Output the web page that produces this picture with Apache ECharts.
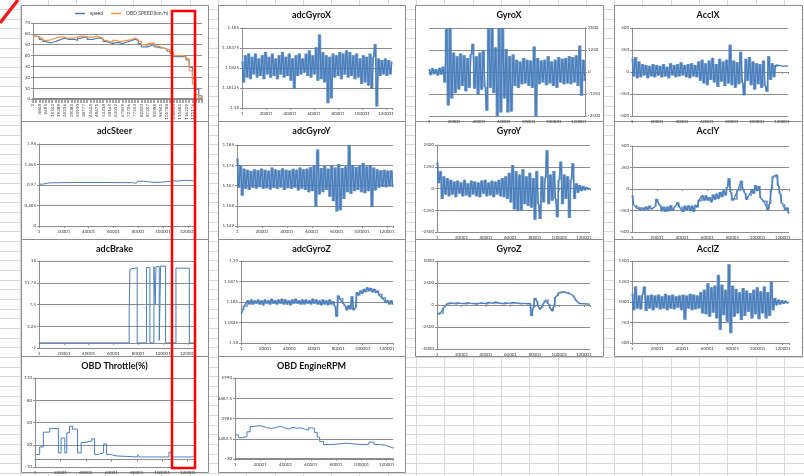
<!DOCTYPE html>
<html>
<head>
<meta charset="utf-8">
<title>sensor log</title>
<script src="https://cdn.jsdelivr.net/npm/echarts@6.0.0/dist/echarts.min.js"></script>
<style>
  html, body { margin: 0; padding: 0; background: #fff; }
  #main { width: 804px; height: 476px; }
</style>
</head>
<body>
<div id="main"></div>
<script>
// ---------- data ----------
var SAMPLE_MAX = 125000;

// speed chart: category ticks + two step traces
var speedTicks = ['1', '4848', '9695', '14542', '19389', '24236', '29083', '33930', '38777', '43624',
    '48471', '53318', '58165', '63012', '67859', '72706', '77553', '82400', '87247', '92094',
    '96941', '101788', '106635', '111482', '116329', '121176'];
var speedGps = [58, 57, 55, 53, 52, 52, 53, 54, 55, 56, 55, 55, 55, 54, 56, 57, 57, 55, 55, 56,
    56, 55, 53, 52, 51, 52, 52, 51, 52, 53, 54, 55, 54, 51, 48, 48, 49, 50, 48, 47,
    47, 46, 44, 42, 39, 39, 39, 39, 36, 29, 19, 9, 3, 0];
var speedObd = [58, 57, 56, 54, 54, 55, 56, 57, 57, 57, 56, 56, 56, 57, 58, 58, 57, 57, 57, 58,
    57, 56, 54, 53, 52, 54, 53, 53, 54, 54, 55, 56, 55, 53, 50, 49, 51, 52, 49, 48,
    47, 46, 45, 43, 40, 40, 40, 39, 37, 26, 14, 4, 1, 0];
var speedYTicks = [0, 10, 20, 30, 40, 50, 60, 70];

// step-like signals: sample index where the value changes, and the value held
var steerX = [0, 3000, 8000, 30000, 50000, 70000, 76000, 78400, 79500, 84000, 90000, 94500, 100000, 103900, 108000, 112000, 116000, 120000, 125000];
var steerY = [0.99, 1.02, 1.03, 1.03, 1.025, 1.025, 1.01, 0.97, 1.06, 1.04, 1.03, 1.04, 1.05, 1.07, 1.06, 1.08, 1.08, 1.07, 1.07];
var steerYTicks = [0, 0.485, 0.97, 1.455, 1.94];

var brakeX = [0, 72740, 73300, 73820, 79200, 86750, 89440, 92670, 93750, 94290, 96980, 98060, 102100, 110450, 121230, 125000];
var brakeY = [0, 6, 14.4, 14.7, 0, 14.7, 0, 14.9, 7.5, 14.9, 0.5, 15, 0, 14.6, 0, 0];
var brakeYTicks = [-1, 3.25, 7.5, 11.75, 16];

var throttleX = [0, 3680, 6580, 11580, 18420, 20530, 23420, 25000, 27110, 29470, 33420, 36320, 39210,
    44740, 46840, 49740, 53950, 56320, 59210, 63680, 80790, 82110, 105260, 107110, 123680, 125000];
var throttleY = [7, 17, 37, 42, 9, 29, 9, 36, 45, 41, 9, 23, 25, 28, 7, 9, 21, 7, 5, 3.5, 6.5, 3.5, 10, 3.5, 5, 5];
var throttleYTicks = [-10, 20, 50, 80, 110];

var rpmX = [0, 2600, 5500, 9500, 12000, 14500, 18500, 22000, 25000, 29000, 33000, 36000, 38500, 42000, 46000,
    49000, 52000, 55000, 58000, 60500, 63000, 65000, 67000, 70000, 76000, 82000, 88000, 94000, 99000,
    103000, 106000, 110000, 115000, 119000, 122000, 125000];
var rpmY = [1770, 1560, 1650, 2000, 2390, 2450, 2420, 2300, 2250, 2330, 2400, 2340, 2200, 2330, 2260,
    2290, 2200, 2120, 2280, 2250, 1950, 1600, 1280, 1050, 1100, 1150, 1100, 1060, 1050,
    1080, 1230, 1050, 1000, 900, 780, 860];
var rpmYTicks = [-20, 1482.5, 2985, 4487.5, 5990];

// noisy signals: evenly spaced samples over the whole log
var adcGyroX = [
    1.1829, 1.1816, 1.1833, 1.1819, 1.1834, 1.1818, 1.1832, 1.1821, 1.1834, 1.1819,
    1.1831, 1.1820, 1.1833, 1.1818, 1.1835, 1.1821, 1.1832, 1.1819, 1.1834, 1.1820,
    1.1831, 1.1818, 1.1833, 1.1821, 1.1835, 1.1819, 1.1832, 1.1820, 1.1834, 1.1817,
    1.1831, 1.1812, 1.1833, 1.1820, 1.1834, 1.1821, 1.1831, 1.1822, 1.1834, 1.1820,
    1.1836, 1.1819, 1.1833, 1.1821, 1.1838, 1.1817, 1.1846, 1.1818, 1.1835, 1.1816,
    1.1833, 1.1803, 1.1832, 1.1806, 1.1834, 1.1819, 1.1833, 1.1820, 1.1835, 1.1818,
    1.1834, 1.1821, 1.1836, 1.1819, 1.1835, 1.1820, 1.1833, 1.1818, 1.1834, 1.1819,
    1.1831, 1.1815, 1.1833, 1.1816, 1.1832, 1.1814, 1.1834, 1.1812, 1.1832, 1.1840,
    1.1801, 1.1831, 1.1820, 1.1830, 1.1821, 1.1831, 1.1820, 1.1830, 1.1821, 1.1829];
var adcGyroXTicks = [1.18, 1.18125, 1.1825, 1.18375, 1.185];

var adcGyroY = [
    1.1790, 1.1660, 1.1760, 1.1625, 1.1745, 1.1655, 1.1740, 1.1650, 1.1735, 1.1660,
    1.1742, 1.1656, 1.1738, 1.1662, 1.1745, 1.1655, 1.1740, 1.1658, 1.1736, 1.1652,
    1.1750, 1.1660, 1.1742, 1.1655, 1.1738, 1.1661, 1.1746, 1.1650, 1.1740, 1.1658,
    1.1737, 1.1655, 1.1744, 1.1660, 1.1740, 1.1648, 1.1750, 1.1656, 1.1742, 1.1650,
    1.1745, 1.1640, 1.1752, 1.1645, 1.1760, 1.1576, 1.1830, 1.1630, 1.1748, 1.1640,
    1.1756, 1.1650, 1.1745, 1.1620, 1.1760, 1.1600, 1.1750, 1.1555, 1.1765, 1.1560,
    1.1748, 1.1610, 1.1755, 1.1640, 1.1850, 1.1632, 1.1760, 1.1645, 1.1752, 1.1650,
    1.1758, 1.1640, 1.1770, 1.1636, 1.1755, 1.1645, 1.1760, 1.1575, 1.1750, 1.1648,
    1.1742, 1.1660, 1.1738, 1.1664, 1.1740, 1.1662, 1.1736, 1.1665, 1.1738, 1.1663];
var adcGyroYTicks = [1.149, 1.158, 1.167, 1.176, 1.185];

var adcGyroZ = [
    1.1836, 1.1840, 1.1846, 1.1844, 1.1852, 1.1847, 1.1853, 1.1847, 1.1852, 1.1848,
    1.1853, 1.1847, 1.1852, 1.1846, 1.1853, 1.1848, 1.1852, 1.1847, 1.1854, 1.1848,
    1.1852, 1.1847, 1.1853, 1.1848, 1.1854, 1.1847, 1.1853, 1.1847, 1.1852, 1.1846,
    1.1853, 1.1848, 1.1854, 1.1848, 1.1852, 1.1847, 1.1853, 1.1847, 1.1853, 1.1848,
    1.1852, 1.1847, 1.1854, 1.1848, 1.1853, 1.1847, 1.1852, 1.1846, 1.1853, 1.1847,
    1.1852, 1.1846, 1.1853, 1.1847, 1.1851, 1.1845, 1.1832, 1.1858, 1.1853, 1.1855,
    1.1848, 1.1845, 1.1840, 1.1846, 1.1841, 1.1857, 1.1840, 1.1843, 1.1862, 1.1858,
    1.1864, 1.1860, 1.1866, 1.1862, 1.1868, 1.1863, 1.1867, 1.1862, 1.1866, 1.1861,
    1.1864, 1.1858, 1.1860, 1.1854, 1.1856, 1.1849, 1.1852, 1.1847, 1.1852, 1.1847];
var adcGyroZTicks = [1.18, 1.1825, 1.185, 1.1875, 1.19];

var gyroX = [
    150, -180, 220, -120, 160, -200, 240, -150, 300, -600,
    2450, -1900, 2500, -1500, 1100, -1200, 900, -1000, 1050, -800,
    950, -1100, 800, -900, 1000, 1600, -950, 900, -1300, 1100,
    -1000, 1200, -850, -2200, 2500, -900, 2500, -1200, 1400, -2550,
    2500, -2300, 2500, -1500, 1300, -2300, 900, -2250, 1000, -800,
    700, -900, 600, -700, 800, -650, 700, -800, 650, -900,
    1450, -2550, 800, -700, 650, -600, 700, -750, 900, -650,
    600, -800, 700, -900, 850, -600, 750, -700, 800, -650,
    900, -700, 850, -600, 950, -800, 1500, -1350, 700, -500];
var gyroXTicks = [-2500, -1250, 0, 1250, 2500];

var gyroY = [
    1500, 300, 1000, -600, 700, -350, 600, -450, 500, -350,
    400, -500, 450, -300, 350, -450, 500, -400, 300, -500,
    450, -350, 400, -450, 350, -500, 450, -300, 500, -450,
    350, -400, 450, -500, 400, -350, 500, -450, 600, -500,
    700, -600, 900, -800, 1350, -1200, 1000, -1300, 800, -1250,
    1100, -900, 700, -1000, 900, -1100, 600, -1800, 1000, -900,
    -1750, 700, -800, 600, 2200, -900, 800, -700, 1000, -600,
    -1650, 500, 1550, -900, 800, -600, 700, -1700, 500, 1450,
    -600, 300, -250, 200, -150, 150, -100, 80, -60, 30];
var gyroYTicks = [-2500, -1250, 0, 1250, 2500];

var gyroZ = [
    -1000, -1100, -900, -1000, -300, -100, 150, 50, 250, 100,
    200, 50, 250, 100, 200, 80, 180, 60, 250, 120,
    200, 80, 150, 0, 200, 100, 250, 120, 150, 50,
    300, 150, 200, 100, 350, 150, 250, 100, 200, 50,
    250, 120, 200, 80, 300, 150, 250, 100, 220, 60,
    200, 100, 150, 50, 200, -1250, -300, 800, 500, -200,
    -500, -300, 200, 500, 650, 100, -400, -700, -200, 900,
    1000, 1400, 1300, 1500, 1600, 1400, 1500, 1300, 1200, 1100,
    800, 500, 300, 150, 100, 150, 80, 120, 100, 90];
var gyroZTicks = [-5000, -2500, 0, 2500, 5000];

var acclX = [
    150, -50, 170, -70, 120, -60, 90, -40, 80, -70,
    70, -50, 90, -60, 80, -40, 70, -60, 90, -50,
    60, -70, 100, -40, 80, -60, 90, -50, 110, -40,
    80, -60, 90, -70, 100, -50, 80, -60, 120, -100,
    140, -130, 100, -150, 130, -90, 160, -120, 90, -170,
    150, -110, 120, -160, 140, -130, 310, -150, 130, -180,
    110, -140, 230, -120, -265, 150, -100, 170, -150, 120,
    -200, 100, -140, 90, -180, 130, -160, -225, 180, -90,
    100, -60, 80, 60, 75, 70, 65, 70, 70, 65];
var acclXTicks = [-500, -250, 0, 250, 500];

var acclY = [
    -75, -185, -185, -225, -205, -245, -215, -245, -205, -240,
    -195, -235, -225, -205, -115, -165, -195, -260, -205, -265,
    -205, -260, -190, -255, -215, -195, -155, -215, -205, -265,
    -195, -250, -190, -255, -195, -265, -185, -215, -125, -145,
    -75, -135, -75, -135, -95, -155, -65, -125, -55, -115,
    -35, -95, -15, -75, 25, 125, -35, -135, -105, -125,
    -15, -25, 95, -5, -45, -125, -85, -85, -5, -55,
    45, -25, 35, -105, -125, -155, -135, -245, -175, -5,
    145, 135, 165, 35, -55, -165, -175, -245, -215, -285];
var acclYTicks = [-500, -250, 0, 250, 500];

var acclZ = [
    1100, 900, 1190, 920, 1080, 910, 1090, 1190, 890, 1080,
    920, 1090, 900, 1080, 930, 1090, 910, 1070, 920, 1100,
    900, 1080, 920, 1090, 910, 1070, 930, 1080, 900, 1090,
    785, 1080, 920, 1100, 900, 1090, 910, 1080, 920, 1120,
    860, 1150, 850, 1230, 820, 1180, 870, 1200, 800, 1330,
    660, 1210, 840, 1150, 760, 1460, 620, 1200, 820, 1160,
    860, 1120, 780, 1170, 830, 1140, 880, 1110, 800, 1150,
    850, 1180, 790, 1130, 860, 1190, 800, 1120, 830, 1250,
    900, 1050, 960, 1030, 970, 1020, 980, 1015, 985, 1000];
var acclZTicks = [500, 750, 1000, 1250, 1500];

// ---------- helpers ----------
var BLUE = '#4a7ebb';
var ORANGE = '#f79646';
var AXIS_GRAY = '#8c8c8c';
var LABEL_GRAY = '#404040';
var FONT = 'Lato, "Liberation Sans", sans-serif';

// evenly spread a noisy trace over the sample range
function evenPoints(vals) {
    var step = SAMPLE_MAX / (vals.length - 1);
    return vals.map(function (v, i) { return [Math.round(i * step), v]; });
}
function pairPoints(xs, ys) {
    return xs.map(function (x, i) { return [x, ys[i]]; });
}
// [x, low, high] of each zigzag segment, filled so the trace reads as a dense band
function bandSeries(i, vals) {
    var step = SAMPLE_MAX / (vals.length - 1);
    var data = [];
    for (var k = 0; k + 1 < vals.length; k++) {
        data.push([Math.round(k * step), Math.min(vals[k], vals[k + 1]), Math.max(vals[k], vals[k + 1])]);
    }
    return {
        type: 'custom', xAxisIndex: i, yAxisIndex: i, silent: true, clip: true,
        data: data, encode: { x: 0, y: [1, 2] },
        renderItem: function (params, api) {
            var lo = api.coord([api.value(0), api.value(1)]);
            var hi = api.coord([api.value(0), api.value(2)]);
            var w = api.size([step, 0])[0];
            return { type: 'rect', shape: { x: lo[0], y: hi[1], width: w, height: lo[1] - hi[1] },
                style: { fill: BLUE, opacity: 0.8 } };
        }
    };
}
function numLabel(v) {
    return String(parseFloat(v.toFixed(5)));
}

// layout of the sheet: chart box and plot area, in px
var panels = [
    { title: null,              box: [21, 5, 187, 116],   plot: [33, 23, 169, 76],  ticks: speedYTicks },
    { title: 'adcSteer',        box: [21, 121, 187, 118], plot: [39, 144, 155, 82], ticks: steerYTicks,    xs: steerX, ys: steerY },
    { title: 'adcBrake',        box: [21, 239, 187, 117], plot: [39, 261, 155, 87], ticks: brakeYTicks,    xs: brakeX, ys: brakeY },
    { title: 'OBD Throttle(%)', box: [21, 356, 187, 116], plot: [35, 378, 159, 89], ticks: throttleYTicks, xs: throttleX, ys: throttleY },
    { title: 'adcGyroX',        box: [218, 5, 187, 116],   plot: [242, 28, 150, 80],  ticks: adcGyroXTicks, noisy: adcGyroX },
    { title: 'adcGyroY',        box: [218, 121, 187, 118], plot: [237, 145, 156, 81], ticks: adcGyroYTicks, noisy: adcGyroY },
    { title: 'adcGyroZ',        box: [218, 239, 187, 117], plot: [241, 261, 152, 82], ticks: adcGyroZTicks, noisy: adcGyroZ },
    { title: 'OBD EngineRPM',   box: [218, 356, 187, 116], plot: [235, 378, 158, 81], ticks: rpmYTicks,     xs: rpmX, ys: rpmY },
    { title: 'GyroX',           box: [415, 5, 188, 116],   plot: [429, 28, 156, 88],  ticks: gyroXTicks, noisy: gyroX, right: true },
    { title: 'GyroY',           box: [415, 121, 188, 118], plot: [437, 145, 153, 87], ticks: gyroYTicks, noisy: gyroY },
    { title: 'GyroZ',           box: [415, 239, 188, 117], plot: [437, 261, 153, 88], ticks: gyroZTicks, noisy: gyroZ },
    { title: 'AcclX',           box: [614, 5, 188, 116],   plot: [632, 28, 156, 88],  ticks: acclXTicks, noisy: acclX },
    { title: 'AcclY',           box: [614, 121, 188, 118], plot: [632, 146, 157, 86], ticks: acclYTicks, noisy: acclY },
    { title: 'AcclZ',           box: [614, 239, 188, 117], plot: [632, 261, 157, 82], ticks: acclZTicks, noisy: acclZ }
];

window.onload = function () {
    var myChart = echarts.init(document.getElementById('main'));

    var grids = [], xAxes = [], yAxes = [], series = [], titles = [], graphics = [];
    var labelStyle = { fontSize: 4.5, color: LABEL_GRAY, fontFamily: FONT };

    // spreadsheet cells behind the charts
    for (var cx = -8.5; cx < 804; cx += 28.3) {
        var lx = Math.round(cx) + 0.5;
        graphics.push({ type: 'line', silent: true, z: -20, shape: { x1: lx, y1: 0, x2: lx, y2: 476 }, style: { stroke: '#d9d9d9', lineWidth: 1 } });
    }
    for (var cy = -0.8; cy < 476; cy += 9.67) {
        var ly = Math.round(cy) + 0.5;
        graphics.push({ type: 'line', silent: true, z: -20, shape: { x1: 0, y1: ly, x2: 804, y2: ly }, style: { stroke: '#d9d9d9', lineWidth: 1 } });
    }

    panels.forEach(function (p, i) {
        // chart frame
        graphics.push({ type: 'rect', silent: true, z: -10,
            shape: { x: p.box[0] + 0.5, y: p.box[1] + 0.5, width: p.box[2], height: p.box[3] },
            style: { fill: '#fff', stroke: AXIS_GRAY, lineWidth: 1 } });

        grids.push({ left: p.plot[0], top: p.plot[1], width: p.plot[2], height: p.plot[3],
            containLabel: false, outerBoundsMode: 'none' });

        var t = p.ticks;
        yAxes.push({
            type: 'value', gridIndex: i, position: p.right ? 'right' : 'left',
            min: t[0], max: t[t.length - 1], interval: parseFloat((t[1] - t[0]).toFixed(8)),
            axisLine: { show: true, onZero: false, lineStyle: { color: AXIS_GRAY } },
            axisTick: { show: true, length: 2, lineStyle: { color: AXIS_GRAY } },
            splitLine: { show: true, lineStyle: { color: AXIS_GRAY, width: 1 } },
            axisLabel: Object.assign({ margin: 3, formatter: numLabel }, labelStyle)
        });

        if (i === 0) {
            // speed chart uses a category axis with rotated sample numbers
            var cats = [];
            speedTicks.forEach(function (s) { cats.push(s, ''); });
            cats.push('', '');
            xAxes.push({
                type: 'category', gridIndex: 0, data: cats, boundaryGap: false,
                axisLine: { show: true, lineStyle: { color: AXIS_GRAY, width: 2 } },
                axisTick: { show: true, interval: 0, length: 4, lineStyle: { color: AXIS_GRAY, width: 1.5 } },
                splitLine: { show: false },
                axisLabel: Object.assign({ interval: 0, rotate: 90, margin: 5 }, labelStyle)
            });
            series.push({ name: 'speed', type: 'line', xAxisIndex: 0, yAxisIndex: 0, step: 'end',
                showSymbol: false, data: speedGps, color: BLUE, lineStyle: { width: 1.2, color: BLUE } });
            series.push({ name: 'OBD SPEED(km/h)', type: 'line', xAxisIndex: 0, yAxisIndex: 0, step: 'end',
                showSymbol: false, data: speedObd, color: ORANGE, lineStyle: { width: 1.2, color: ORANGE } });
            return;
        }

        xAxes.push({
            type: 'value', gridIndex: i, min: 0, max: SAMPLE_MAX, interval: 20000,
            axisLine: { show: true, onZero: true, lineStyle: { color: AXIS_GRAY } },
            axisTick: { show: true, length: 2, lineStyle: { color: AXIS_GRAY } },
            splitLine: { show: false },
            axisLabel: Object.assign({ margin: 3, formatter: function (v) {
                return v % 20000 === 0 ? String(v + 1) : '';
            } }, labelStyle)
        });

        if (p.noisy) {
            series.push(bandSeries(i, p.noisy));
            series.push({ type: 'line', xAxisIndex: i, yAxisIndex: i, data: evenPoints(p.noisy),
                showSymbol: false, lineStyle: { width: 1.2, color: BLUE }, color: BLUE });
        } else {
            series.push({ type: 'line', xAxisIndex: i, yAxisIndex: i, data: pairPoints(p.xs, p.ys),
                step: 'end', showSymbol: false, lineStyle: { width: 1, color: BLUE }, color: BLUE });
        }

        titles.push({ text: p.title, left: p.box[0] + p.box[2] / 2, top: p.box[1] + 6, padding: 0,
            textAlign: 'center', textVerticalAlign: 'top',
            textStyle: { fontSize: 9, fontWeight: 'bold', color: '#111', fontFamily: FONT } });
    });

    // red highlight drawn over the sheet
    graphics.push({ type: 'rect', silent: true, z: 100,
        shape: { x: 172, y: 11, width: 23, height: 457 },
        style: { fill: null, stroke: '#ff0000', lineWidth: 2.5 } });
    graphics.push({ type: 'line', silent: true, z: 100,
        shape: { x1: 0, y1: 23, x2: 18, y2: 0 },
        style: { stroke: '#ee1c1c', lineWidth: 3.5 } });

    var option = {
        animation: false,
        backgroundColor: '#fff',
        title: titles,
        legend: {
            data: ['speed', 'OBD SPEED(km/h)'], left: 75, top: 11, padding: 0,
            icon: 'rect', itemWidth: 10, itemHeight: 1.5, itemGap: 8,
            textStyle: { fontSize: 5, color: LABEL_GRAY, fontFamily: FONT }
        },
        grid: grids,
        xAxis: xAxes,
        yAxis: yAxes,
        series: series,
        graphic: graphics
    };

    myChart.setOption(option);
    window.addEventListener('resize', function () {
        myChart.resize();
    });
};
</script>
</body>
</html>
